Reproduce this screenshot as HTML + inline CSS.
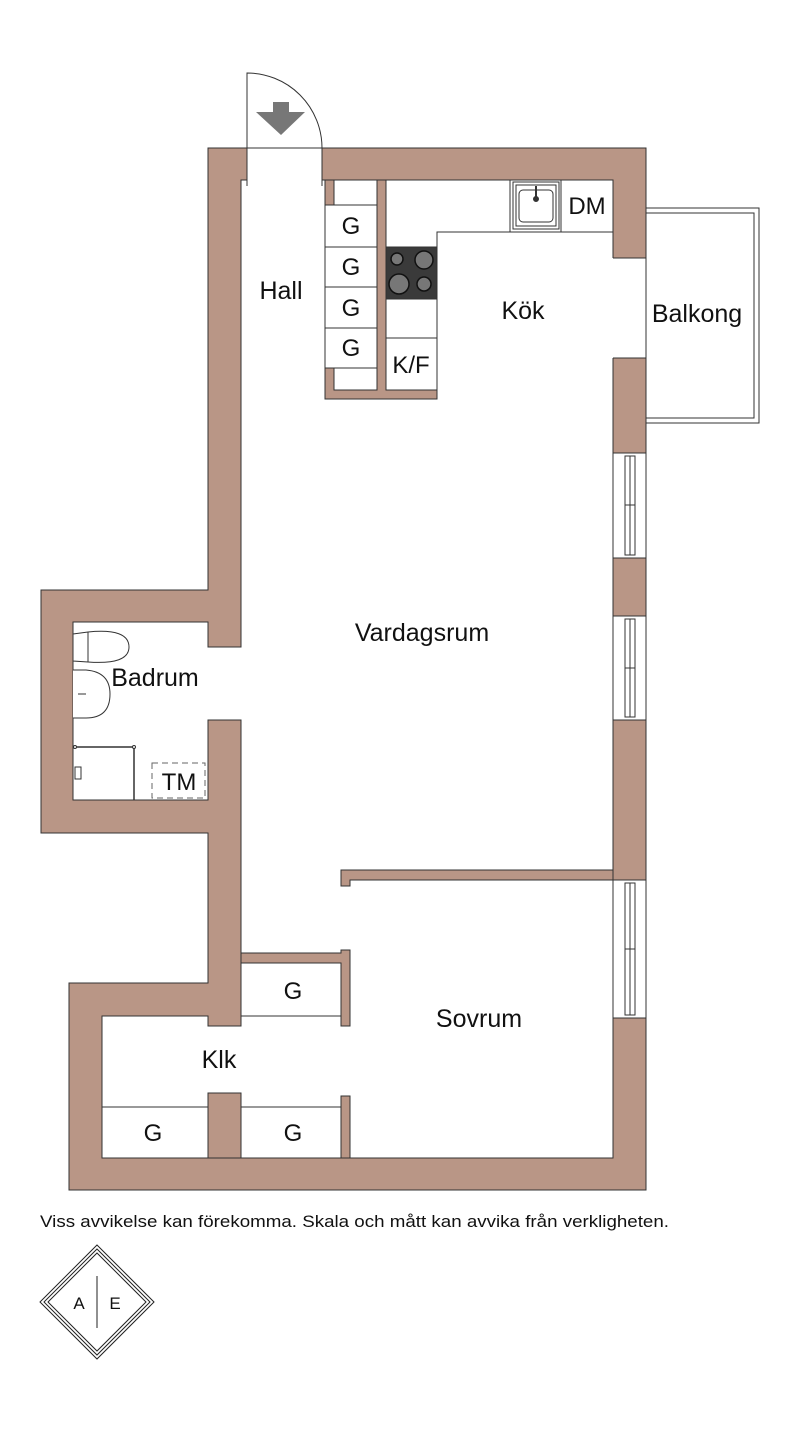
<!DOCTYPE html>
<html><head><meta charset="utf-8"><style>
html,body{margin:0;padding:0;background:#fff;}
svg{display:block;}
text{font-family:"Liberation Sans",sans-serif;fill:#111;}
</style></head><body>
<svg width="800" height="1431" viewBox="0 0 800 1431" xmlns="http://www.w3.org/2000/svg">
<g stroke="#333" stroke-width="1">
<polygon fill="#b99686" points="208,148 646,148 646,1190 69,1190 69,983 208,983 208,833 41,833 41,590 208,590"/>
<polygon fill="#fff" points="241,180 613,180 613,1158 102,1158 102,1016 208,1016 208,1026 241,1026 241,720 208,720 208,800 73,800 73,622 208,622 208,647 241,647"/>
<rect x="247" y="146" width="75" height="36" fill="#fff" stroke="none"/>
<line x1="247" y1="148" x2="322" y2="148"/>
<line x1="247" y1="148" x2="247" y2="186"/><line x1="322" y1="148" x2="322" y2="186"/>
<path d="M247,148 L247,73 A75,75 0 0 1 322,148" fill="none"/>
<rect x="612" y="258" width="35" height="100" fill="#fff" stroke="none"/>
<line x1="613" y1="258" x2="646" y2="258"/><line x1="613" y1="358" x2="646" y2="358"/>
<line x1="646" y1="258" x2="646" y2="358"/>
<polyline points="646,208 759,208 759,423 646,423" fill="none"/>
<polyline points="646,213 754,213 754,418 646,418" fill="none"/>
<g fill="#fff">
<rect x="613" y="453" width="33" height="105"/>
<rect x="625" y="456" width="10" height="99"/><line x1="630" y1="456" x2="630" y2="555"/><line x1="625" y1="505" x2="635" y2="505"/>
<rect x="613" y="616" width="33" height="104"/>
<rect x="625" y="619" width="10" height="98"/><line x1="630" y1="619" x2="630" y2="717"/><line x1="625" y1="668" x2="635" y2="668"/>
<rect x="613" y="880" width="33" height="138"/>
<rect x="625" y="883" width="10" height="132"/><line x1="630" y1="883" x2="630" y2="1015"/><line x1="625" y1="949" x2="635" y2="949"/>
</g>
<polygon fill="#b99686" points="325,180 386,180 386,390 437,390 437,399 325,399"/>
<rect x="334" y="180" width="43" height="25" fill="#fff"/>
<rect x="334" y="368" width="43" height="22" fill="#fff"/>
<g fill="#fff">
<rect x="325" y="205" width="52" height="42"/><rect x="325" y="247" width="52" height="40"/>
<rect x="325" y="287" width="52" height="41"/><rect x="325" y="328" width="52" height="40"/>
</g>
<polygon fill="#fff" points="386,180 613,180 613,232 437,232 437,390 386,390"/>
<line x1="510" y1="180" x2="510" y2="232"/><line x1="561" y1="180" x2="561" y2="232"/>
<line x1="386" y1="338" x2="437" y2="338"/>
<rect x="513" y="182" width="46" height="47" fill="#fff"/>
<rect x="516" y="185" width="40" height="41" fill="#fff"/>
<rect x="519" y="190" width="34" height="32" rx="4" fill="#fff"/>
<line x1="536" y1="186" x2="536" y2="198" stroke-width="2"/><circle cx="536" cy="199" r="2.5" fill="#333"/>
<rect x="386" y="247" width="51" height="52" fill="#3a3a3a"/>
<g stroke="#111" fill="#777" stroke-width="1.5">
<circle cx="397" cy="259" r="6"/><circle cx="424" cy="260" r="9"/>
<circle cx="399" cy="284" r="10"/><circle cx="424" cy="284" r="7"/>
</g>
<polygon fill="#b99686" points="341,870 613,870 613,880 350,880 350,886 341,886"/>
<polygon fill="#b99686" points="241,953 341,953 341,950 350,950 350,1026 341,1026 341,963 241,963"/>
<rect x="241" y="963" width="100" height="53" fill="#fff"/>
<rect x="208" y="1093" width="33" height="65" fill="#b99686"/>
<rect x="341" y="1096" width="9" height="62" fill="#b99686"/>
<rect x="102" y="1107" width="106" height="51" fill="#fff"/>
<rect x="241" y="1107" width="100" height="51" fill="#fff"/>
<path d="M73,634 L88,632 Q129,628 129,647 Q129,665 88,662 L73,661 Z" fill="#fff"/>
<line x1="88" y1="632" x2="88" y2="662"/>
<path d="M73,670 L86,670 Q110,672 110,694 Q110,718 86,718 L73,718" fill="#fff"/>
<line x1="78" y1="694" x2="86" y2="694"/>
<polyline points="73,747 134,747 134,800" fill="none" stroke-width="1.5"/>
<circle cx="134" cy="747" r="1.5" fill="#fff"/><circle cx="75" cy="747" r="1.5" fill="#fff"/>
<rect x="152" y="763" width="53" height="35" fill="none" stroke="#666" stroke-dasharray="6,4"/>
<rect x="75" y="767" width="6" height="12" fill="#fff"/>
</g>
<polygon fill="#777" points="273,102 289,102 289,112 305,112 281,135 256,112 273,112"/>
<g font-size="25" text-anchor="middle">
<text x="281" y="299">Hall</text>
<text x="523" y="319">Kök</text>
<text x="697" y="322">Balkong</text>
<text x="422" y="641">Vardagsrum</text>
<text x="155" y="686">Badrum</text>
<text x="479" y="1027">Sovrum</text>
<text x="219" y="1068">Klk</text>
</g>
<g font-size="24" text-anchor="middle">
<text x="179" y="790">TM</text>
<text x="587" y="214">DM</text>
<text x="411" y="373">K/F</text>
<text x="351" y="234">G</text><text x="351" y="275">G</text>
<text x="351" y="316">G</text><text x="351" y="356">G</text>
<text x="293" y="999">G</text><text x="153" y="1141">G</text><text x="293" y="1141">G</text>
</g>
<text x="40" y="1227" font-size="17" textLength="629" lengthAdjust="spacingAndGlyphs">Viss avvikelse kan förekomma. Skala och mått kan avvika från verkligheten.</text>
<g fill="none" stroke="#222" stroke-width="1">
<polygon points="97,1245 154,1302 97,1359 40,1302"/>
<polygon points="97,1249 150,1302 97,1355 44,1302"/>
<polygon points="97,1253 146,1302 97,1351 48,1302"/>
<line x1="97" y1="1276" x2="97" y2="1328"/>
</g>
<text x="79" y="1309" font-size="17" text-anchor="middle">A</text>
<text x="115" y="1309" font-size="17" text-anchor="middle">E</text>
</svg>
</body></html>
